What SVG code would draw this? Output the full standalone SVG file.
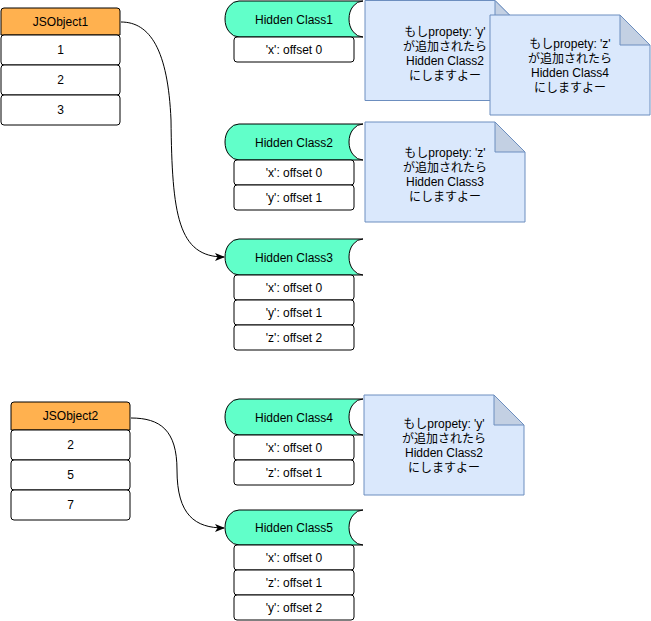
<svg xmlns="http://www.w3.org/2000/svg" width="651" height="621" viewBox="0 0 651 621">
<defs>
<style>
text{font-family:"Liberation Sans","Noto Sans CJK JP",Arial,sans-serif;font-size:12px;fill:#000;text-anchor:middle}
.hdr{fill:#FFB14F;stroke:#000;stroke-width:1}
.row{fill:#fff;stroke:#000;stroke-width:1}
.hc{fill:#61FFC9;stroke:#000;stroke-width:1}
.note{fill:#DAE8FC;stroke:#6C8EBF;stroke-width:1}
.fold{fill:#C3D0E3;stroke:#6C8EBF;stroke-width:1}
.edge{fill:none;stroke:#000;stroke-width:1}
</style>
<marker id="arr" viewBox="0 0 10 8" refX="9" refY="4" markerWidth="10" markerHeight="8" markerUnits="userSpaceOnUse" orient="auto">
<path d="M0,0 L10,4 L0,8 L2.5,4 Z" fill="#000"/>
</marker>
</defs>

<g id="connectors">
<path class="edge" d="M121,22 C150,22 168,50 171,120 C172,215 178,257 224,257" marker-end="url(#arr)"/>
<path class="edge" d="M131,418 C160,418 177,430 177,470 C177,515 195,528 224,528" marker-end="url(#arr)"/>
</g>

<g id="jsobject1">
<path class="hdr" d="M1,35 L1,11 Q1,8 4,8 L117,8 Q120,8 120,11 L120,35 Z"/>
<text x="60.5" y="26">JSObject1</text>
<rect class="row" x="1" y="35" width="119" height="30" rx="3"/>
<text x="60.5" y="54">1</text>
<rect class="row" x="1" y="65" width="119" height="30" rx="3"/>
<text x="60.5" y="84">2</text>
<rect class="row" x="1" y="95" width="119" height="30" rx="3"/>
<text x="60.5" y="114">3</text>
</g>

<g id="jsobject2">
<path class="hdr" d="M11,430 L11,405 Q11,402 14,402 L127,402 Q130,402 130,405 L130,430 Z"/>
<text x="70.5" y="420">JSObject2</text>
<rect class="row" x="11" y="430" width="119" height="30" rx="3"/>
<text x="70.5" y="449">2</text>
<rect class="row" x="11" y="460" width="119" height="30" rx="3"/>
<text x="70.5" y="479">5</text>
<rect class="row" x="11" y="490" width="119" height="30" rx="3"/>
<text x="70.5" y="509">7</text>
</g>

<g id="hiddenclass1">
<path class="hc" d="M239,1 L363,1 A14,18 0 0 0 363,37 L239,37 A14,18 0 0 1 239,1 Z"/>
<text x="294" y="23.5">Hidden Class1</text>
<rect class="row" x="234" y="37" width="120" height="25" rx="3"/>
<text x="294" y="53.5">'x': offset 0</text>
</g>

<g id="hiddenclass2">
<path class="hc" d="M239,124 L363,124 A14,18 0 0 0 363,160 L239,160 A14,18 0 0 1 239,124 Z"/>
<text x="294" y="146.5">Hidden Class2</text>
<rect class="row" x="234" y="160" width="120" height="25" rx="3"/>
<text x="294" y="176.5">'x': offset 0</text>
<rect class="row" x="234" y="185" width="120" height="25" rx="3"/>
<text x="294" y="201.5">'y': offset 1</text>
</g>

<g id="hiddenclass3">
<path class="hc" d="M239,239 L363,239 A14,18 0 0 0 363,275 L239,275 A14,18 0 0 1 239,239 Z"/>
<text x="294" y="261.5">Hidden Class3</text>
<rect class="row" x="234" y="275" width="120" height="25" rx="3"/>
<text x="294" y="291.5">'x': offset 0</text>
<rect class="row" x="234" y="300" width="120" height="25" rx="3"/>
<text x="294" y="316.5">'y': offset 1</text>
<rect class="row" x="234" y="325" width="120" height="25" rx="3"/>
<text x="294" y="341.5">'z': offset 2</text>
</g>

<g id="hiddenclass4">
<path class="hc" d="M239,399 L363,399 A14,18 0 0 0 363,435 L239,435 A14,18 0 0 1 239,399 Z"/>
<text x="294" y="421.5">Hidden Class4</text>
<rect class="row" x="234" y="435" width="120" height="25" rx="3"/>
<text x="294" y="451.5">'x': offset 0</text>
<rect class="row" x="234" y="460" width="120" height="25" rx="3"/>
<text x="294" y="476.5">'z': offset 1</text>
</g>

<g id="hiddenclass5">
<path class="hc" d="M239,510 L363,510 A14,17.5 0 0 0 363,545 L239,545 A14,17.5 0 0 1 239,510 Z"/>
<text x="294" y="532">Hidden Class5</text>
<rect class="row" x="234" y="545" width="120" height="25" rx="3"/>
<text x="294" y="561.5">'x': offset 0</text>
<rect class="row" x="234" y="570" width="120" height="25" rx="3"/>
<text x="294" y="586.5">'z': offset 1</text>
<rect class="row" x="234" y="595" width="120" height="25" rx="3"/>
<text x="294" y="611.5">'y': offset 2</text>
</g>

<g id="note1">
<path class="note" d="M365,0.5 L495,0.5 L525,30.5 L525,100.5 L365,100.5 Z"/>
<path class="fold" d="M495,0.5 L495,30.5 L525,30.5 Z"/>
<text x="445" y="36.4">もしpropety: 'y'</text>
<text x="445" y="50.8">が追加されたら</text>
<text x="445" y="65.2">Hidden Class2</text>
<text x="445" y="79.6">にしますよー</text>
</g>

<g id="note2">
<path class="note" d="M490,15 L620,15 L650,45 L650,115 L490,115 Z"/>
<path class="fold" d="M620,15 L620,45 L650,45 Z"/>
<text x="570" y="48.4">もしpropety: 'z'</text>
<text x="570" y="62.8">が追加されたら</text>
<text x="570" y="77.2">Hidden Class4</text>
<text x="570" y="91.6">にしますよー</text>
</g>

<g id="note3">
<path class="note" d="M365,122 L495,122 L525,152 L525,222 L365,222 Z"/>
<path class="fold" d="M495,122 L495,152 L525,152 Z"/>
<text x="445" y="157.4">もしpropety: 'z'</text>
<text x="445" y="171.8">が追加されたら</text>
<text x="445" y="186.2">Hidden Class3</text>
<text x="445" y="200.6">にしますよー</text>
</g>

<g id="note4">
<path class="note" d="M364,395 L494,395 L524,425 L524,495 L364,495 Z"/>
<path class="fold" d="M494,395 L494,425 L524,425 Z"/>
<text x="444" y="428.4">もしpropety: 'y'</text>
<text x="444" y="442.8">が追加されたら</text>
<text x="444" y="457.2">Hidden Class2</text>
<text x="444" y="471.6">にしますよー</text>
</g>
</svg>
